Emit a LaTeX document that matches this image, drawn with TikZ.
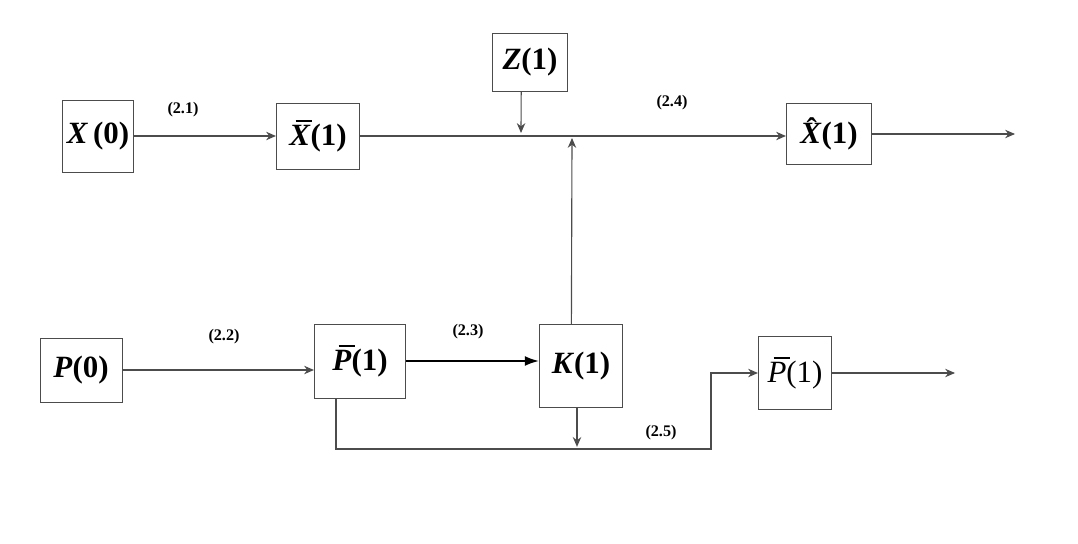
\documentclass[tikz,border=0pt]{standalone}
\usepackage{fontspec}
\setmainfont{Liberation Serif}
\usetikzlibrary{arrows.meta}
\newcommand{\barit}[1]{\leavevmode\rlap{\hspace{0.2em}\rule[0.78em]{0.52em}{0.06em}}\textit{#1}}
\newcommand{\hatit}[1]{\leavevmode\rlap{\hspace{0.2em}\raisebox{0.12em}{ˆ}}\textit{#1}}
\begin{document}
\begin{tikzpicture}[x=0.025cm, y=-0.025cm,
      box/.style={rectangle,draw=black!70,line width=0.6pt,inner sep=0pt,font=\fontsize{22}{25}\selectfont\bfseries},
      arr/.style={-{Stealth[length=7pt,width=6pt]},draw=black!70,line width=0.8pt},
      arrb/.style={-{Latex[length=10pt,width=7pt]},draw=black,line width=1.3pt},
      lbl/.style={font=\fontsize{11.5}{13}\selectfont\bfseries}
    ]
      \useasboundingbox (0,0) rectangle (1078,544);

      % state row
      \node[box,minimum width=1.78cm,minimum height=1.8cm] (x0) at (98,136)  {\textit{X}\,(0)};
      \node[box,minimum width=2.08cm,minimum height=1.65cm] (xb) at (318,136) {\barit{X}(1)};
      \node[box,minimum width=1.88cm,minimum height=1.45cm] (z) at (530,62)   {\textit{Z}(1)};
      \node[box,minimum width=2.13cm,minimum height=1.53cm] (xh) at (829,134) {\hatit{X}(1)};
      \coordinate (zin) at (521,133);
      \coordinate (kin) at (572,138);
      \coordinate (xout) at (1015,134);
      \draw[arr] (x0.east) -- (x0.east -| xb.west);
      \draw[arr] (xb.east) -- (xb.east -| xh.west);
      \draw[arr] ([xshift=-0.22cm]z.south) -- (zin);
      \draw[arr] (xh.east) -- (xout);
      \node[lbl] at (183,110) {(2.1)};
      \node[lbl] at (672,103) {(2.4)};

      % covariance row
      \node[box,minimum width=2.05cm,minimum height=1.6cm] (p0) at (81,370)   {\textit{P}(0)};
      \node[box,minimum width=2.28cm,minimum height=1.85cm] (pb) at (360,361) {\barit{P}(1)};
      \node[box,minimum width=2.08cm,minimum height=2.08cm] (k) at (581,366)  {\textit{K}(1)};
      \node[box,font=\fontsize{22}{25}\selectfont,minimum width=1.83cm,minimum height=1.83cm] (pr) at (795,373) {\barit{P}(1)};
      \coordinate (c5) at (711,449);
      \coordinate (pout) at (955,373);
      \draw[arr] (p0.east) -- (p0.east -| pb.west);
      \draw[arrb] (pb.east) -- (pb.east -| k.west);
      \draw[arr] ([xshift=-0.24cm]k.north) -- (kin);
      \draw[arr,shorten >=1.5pt] ([xshift=-0.1cm]k.south) -- ([xshift=-0.1cm]k.south |- c5);
      \draw[arr] ([xshift=-0.6cm]pb.south) |- (c5) |- (pr.west);
      \draw[arr] (pr.east) -- (pout);
      \node[lbl] at (224,337) {(2.2)};
      \node[lbl] at (468,332) {(2.3)};
      \node[lbl] at (661,433) {(2.5)};
    \end{tikzpicture}
\end{document}
